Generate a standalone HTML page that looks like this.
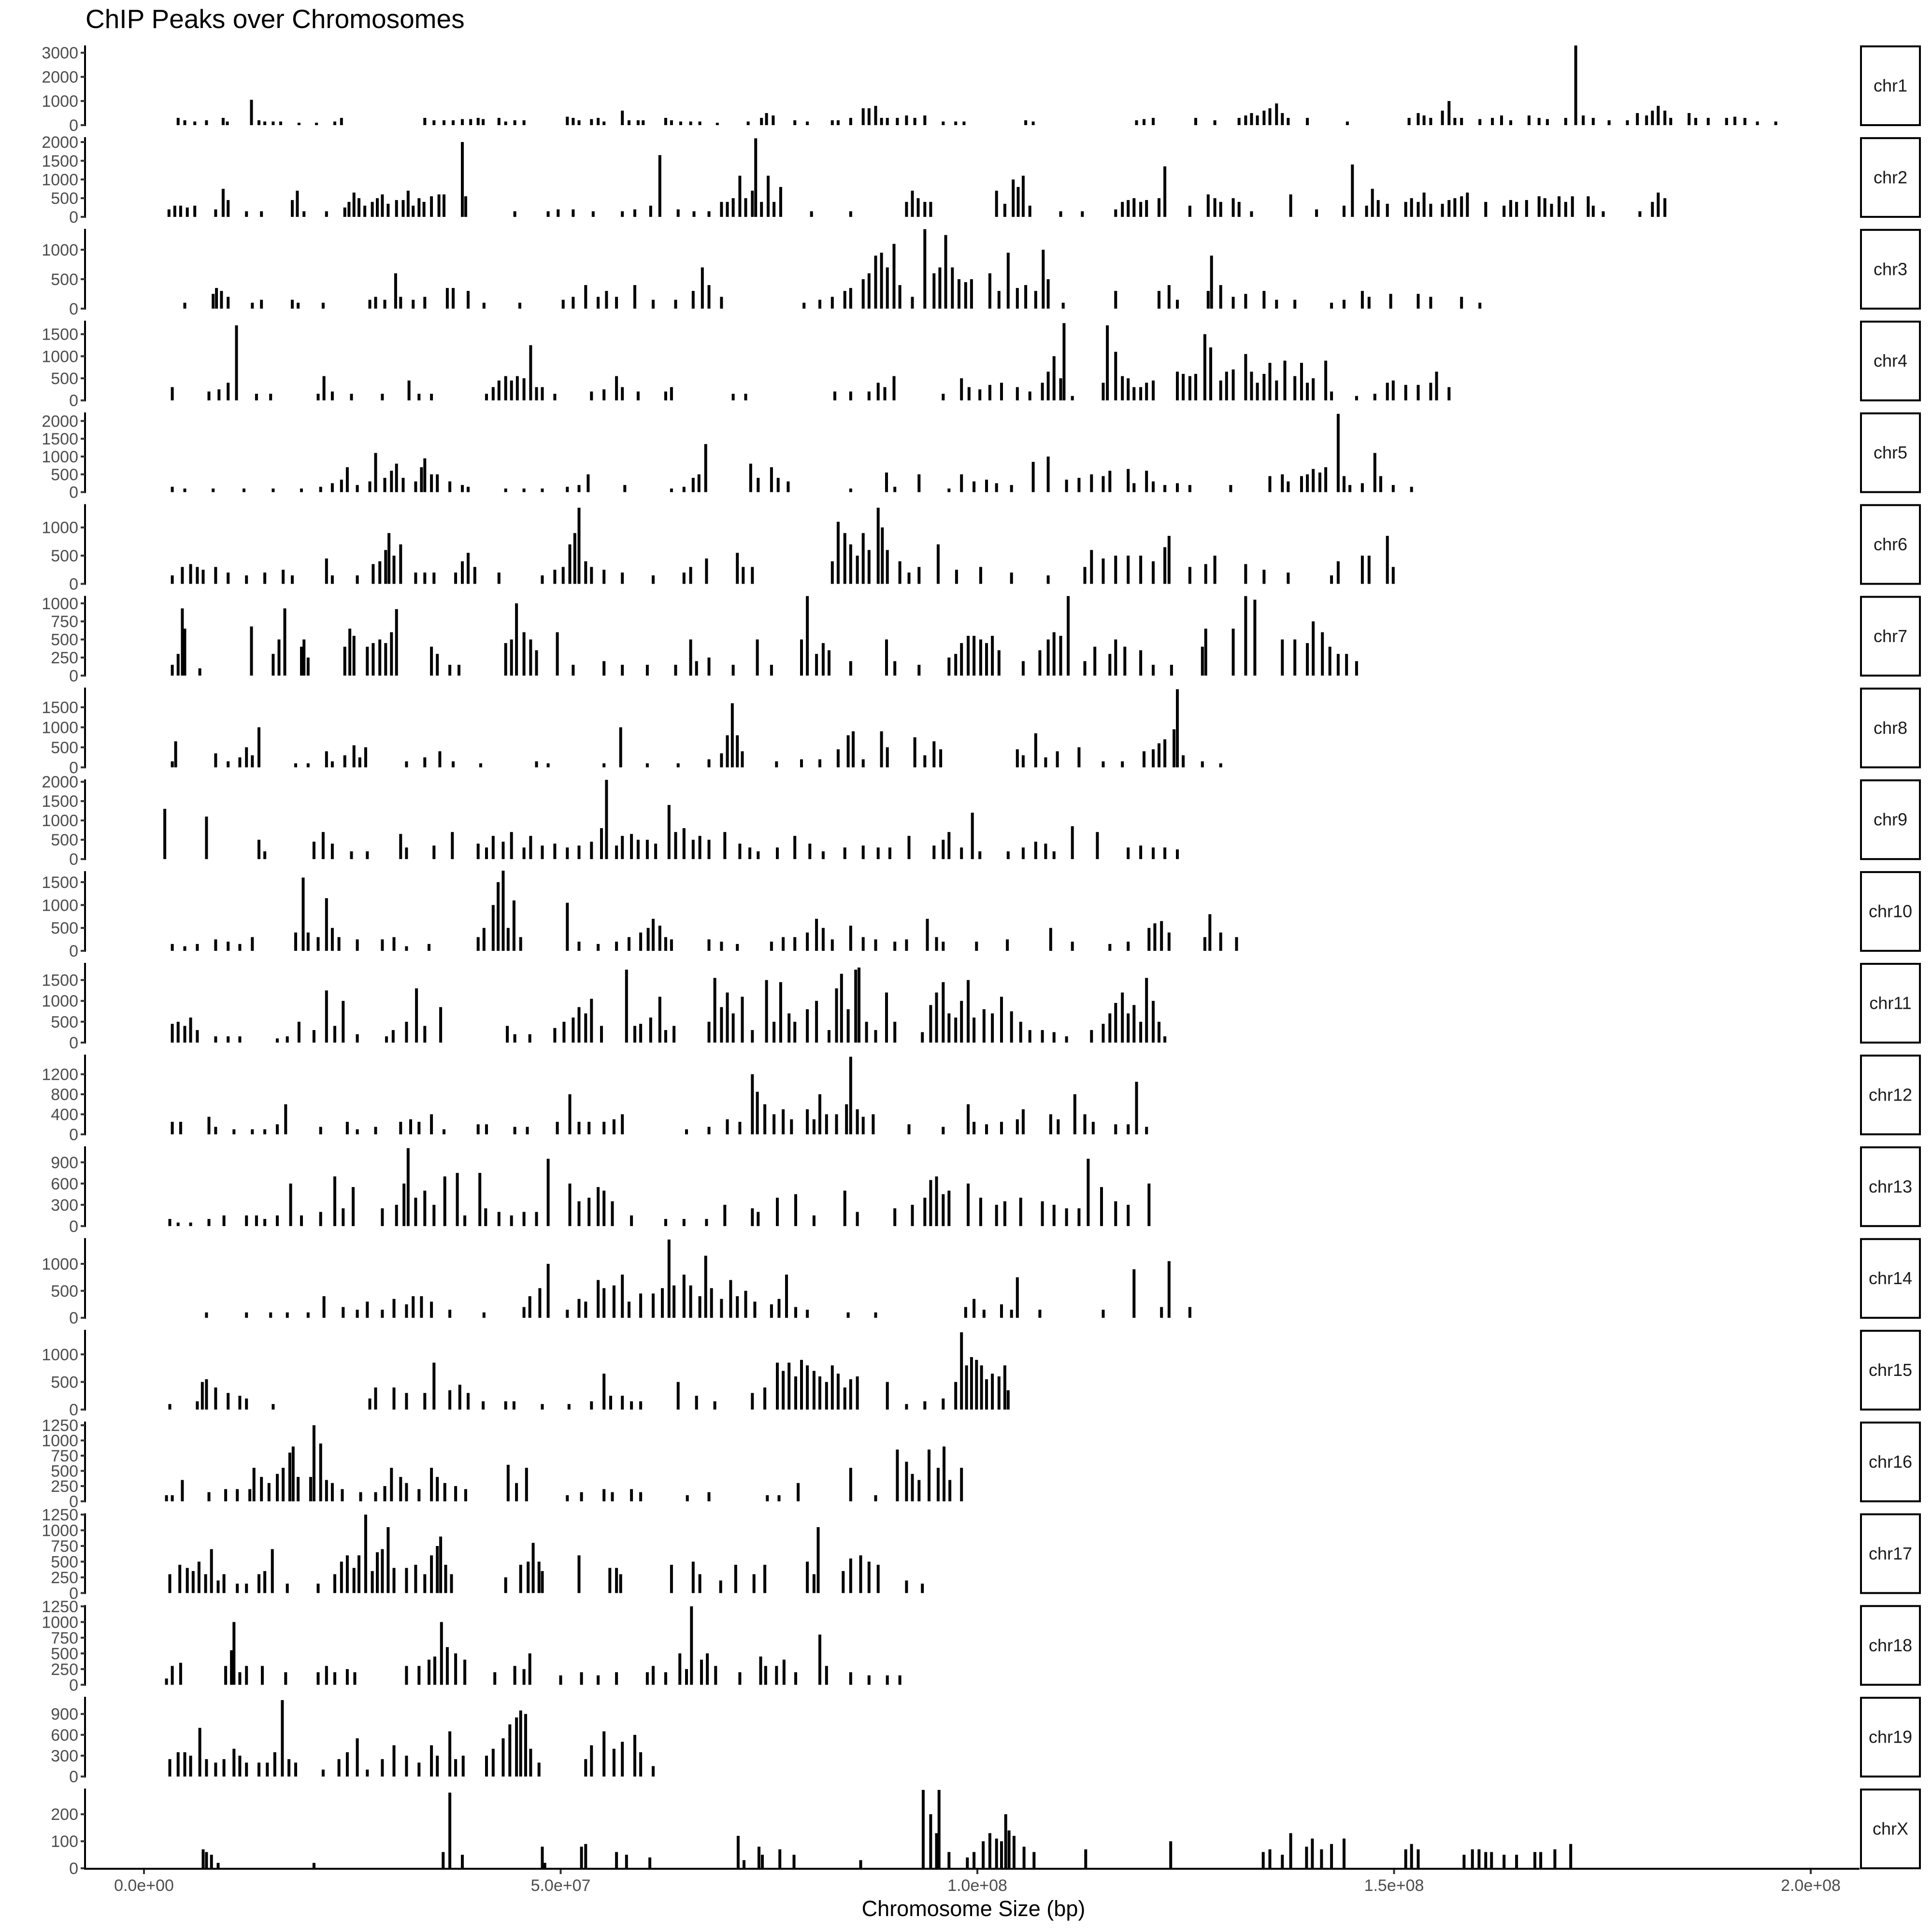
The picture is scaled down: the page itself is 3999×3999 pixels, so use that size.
<!DOCTYPE html>
<html><head><meta charset="utf-8"><style>
html,body{margin:0;padding:0;background:#fff;}
svg{display:block;font-family:"Liberation Sans",sans-serif;}
</style></head><body>
<svg id="chart" width="3999" height="3999" viewBox="0 0 3999 3999" xmlns="http://www.w3.org/2000/svg">
<rect width="3999" height="3999" fill="#fff"/>
<text x="177" y="58" font-size="55" fill="#000">ChIP Peaks over Chromosomes</text>
<g id="panels"></g>
<g id="xaxis"></g>
<text x="2015" y="3966" font-size="45" text-anchor="middle" fill="#000">Chromosome Size (bp)</text>
</svg>
<script>
const chromNames = ["chr1","chr2","chr3","chr4","chr5","chr6","chr7","chr8","chr9","chr10","chr11","chr12","chr13","chr14","chr15","chr16","chr17","chr18","chr19","chrX"];
const yMaxes = [3305,2131,1354,1806,2241,1413,1103,1990,2063,1741,1912,1592,1125,1477,1444,1310,1270,1270,1147,295];
const yTicks = [[0,1000,2000,3000],[0,500,1000,1500,2000],[0,500,1000],[0,500,1000,1500],[0,500,1000,1500,2000],[0,500,1000],[0,250,500,750,1000],[0,500,1000,1500],[0,500,1000,1500,2000],[0,500,1000,1500],[0,500,1000,1500],[0,400,800,1200],[0,300,600,900],[0,500,1000],[0,500,1000],[0,250,500,750,1000,1250],[0,250,500,750,1000,1250],[0,250,500,750,1000,1250],[0,300,600,900],[0,100,200]];
const xTicksMb = [0,50,100,150,200];
const xTickLabels = ["0.0e+00","5.0e+07","1.0e+08","1.5e+08","2.0e+08"];
// peaks: [position in Mb, signal]
const chr1 = [[4.1,300],[4.9,200],[6.1,150],[7.5,200],[9.5,300],[10,150],[12.9,1050],[13.8,200],[14.5,150],[15.5,150],[16.4,150],[18.6,100],[20.7,100],[22.9,150],[23.7,300],[33.7,300],[34.8,200],[36,200],[37.1,200],[38.2,250],[39.2,250],[40.1,300],[40.7,250],[42.6,300],[43.4,150],[44.5,200],[45.6,200],[50.8,350],[51.5,300],[52.2,200],[53.7,250],[54.5,300],[55.2,150],[57.4,600],[58.2,200],[59.3,200],[59.9,200],[62.6,300],[63.3,200],[64.4,150],[65.6,150],[66.7,150],[68.8,100],[72.5,150],[74.1,300],[74.7,500],[75.5,400],[78.1,200],[79.6,150],[82.6,200],[83.3,200],[84.8,300],[86.3,700],[87,700],[87.8,800],[88.5,300],[89.2,300],[90.4,300],[91.5,400],[92.5,300],[93.7,400],[95.9,150],[97.4,150],[98.4,150],[105.8,200],[106.7,150],[119.1,200],[120,250],[121.1,300],[126.2,300],[128.5,200],[131.4,300],[132.2,400],[132.9,500],[133.6,400],[134.4,600],[135.1,700],[135.9,900],[136.6,500],[137.3,300],[139.6,300],[144.4,150],[151.8,300],[152.9,500],[153.6,400],[154.4,300],[155.8,600],[156.6,1000],[157.3,300],[158.1,300],[160.3,250],[161.8,300],[162.9,400],[164,200],[166.2,400],[167.4,300],[168.4,250],[170.6,300],[171.8,3300],[172.7,400],[173.9,300],[175.8,200],[178,200],[179.2,500],[180.3,400],[181,600],[181.7,800],[182.5,600],[183.2,300],[185.4,500],[186.2,300],[187.7,300],[189.9,300],[190.9,350],[192.1,300],[193.6,150],[195.8,150]];
const chr2 = [[3,200],[3.7,300],[4.4,300],[5.2,250],[6.1,300],[8.6,200],[9.5,750],[10.1,450],[12.3,150],[14.1,150],[17.8,450],[18.4,700],[19.2,150],[21.9,150],[24.1,250],[24.6,400],[25.2,650],[25.8,500],[26.5,300],[27.4,400],[28,500],[28.6,600],[29.3,350],[30.3,450],[31.1,450],[31.7,700],[32.3,300],[33,500],[33.6,400],[34.5,550],[35.4,600],[36,600],[38.2,2000],[38.6,550],[44.5,150],[48.5,150],[49.7,200],[51.5,200],[53.9,150],[57.4,150],[58.9,200],[60.8,300],[61.9,1650],[64.1,200],[66,150],[67.8,150],[69.3,400],[70,400],[70.7,500],[71.5,1100],[72.2,500],[73,700],[73.4,2100],[74.1,400],[74.9,1100],[75.6,400],[76.4,800],[80.1,150],[84.8,150],[91.5,400],[92.2,700],[92.9,500],[93.7,400],[94.4,400],[102.3,700],[103.3,350],[104.3,1000],[104.9,800],[105.5,1100],[106.3,300],[110,150],[112.6,150],[116.6,200],[117.4,400],[118.1,450],[118.8,500],[119.6,400],[120.3,450],[121.8,500],[122.5,1350],[125.5,300],[127.7,600],[128.5,500],[129.2,400],[130.7,500],[131.4,400],[132.9,150],[137.6,600],[140.7,200],[144,300],[145,1400],[146.7,300],[147.4,750],[148.1,450],[149.2,350],[151.4,400],[152.1,500],[152.9,400],[153.6,650],[154.4,350],[155.8,350],[156.6,450],[157.3,500],[158.1,550],[158.8,650],[161,400],[163.2,300],[164,450],[164.7,400],[165.9,450],[167.4,550],[168.1,500],[168.9,350],[169.8,550],[170.6,400],[171.4,550],[173.3,550],[173.9,300],[175.1,150],[179.5,150],[181,400],[181.7,650],[182.5,500]];
const chr3 = [[4.9,100],[8.3,250],[8.7,350],[9.3,300],[10.1,200],[13,100],[14.1,150],[17.8,150],[18.5,100],[21.5,100],[27.1,150],[27.8,200],[28.9,150],[30.2,600],[30.8,200],[32.3,150],[33.7,200],[36.4,350],[37.1,350],[38.9,300],[40.8,100],[45.1,100],[50.3,150],[51.5,200],[53,400],[54.5,200],[55.5,300],[56.7,200],[58.9,400],[61.1,150],[63.8,150],[65.9,300],[67,700],[67.8,400],[69.3,200],[79.2,100],[81.1,150],[82.6,200],[84.1,300],[84.8,350],[86.3,500],[87,600],[87.8,900],[88.5,950],[89.2,700],[90,1100],[90.7,400],[92.2,200],[93.7,1350],[94.8,600],[95.5,700],[96.2,1250],[97,700],[97.8,500],[98.6,450],[99.3,500],[101.5,600],[102.6,300],[103.7,950],[104.8,350],[105.8,400],[107,300],[107.9,1000],[108.5,500],[110.3,100],[116.6,300],[121.8,300],[123,400],[124,150],[127.7,300],[128.1,900],[129.2,400],[130.7,200],[132.2,250],[134.4,300],[135.9,150],[138.1,150],[142.5,100],[144,150],[146.2,300],[147,200],[149.6,250],[152.9,250],[154.4,200],[158.1,200],[160.3,100]];
const chr4 = [[3.4,300],[7.8,200],[9,250],[10.1,400],[11.1,1700],[13.5,150],[15.2,150],[20.9,150],[21.6,550],[22.6,200],[24.9,150],[28.6,150],[31.8,450],[33,150],[34.5,150],[41.1,150],[41.9,300],[42.6,450],[43.4,550],[44.1,450],[44.8,550],[45.6,500],[46.4,1250],[47.1,300],[47.8,300],[49.3,150],[53.7,200],[55.2,250],[56.7,550],[57.4,300],[59.3,200],[62.6,200],[63.3,300],[70.7,150],[72.2,150],[82.9,200],[84.8,200],[87,200],[88.1,400],[88.9,300],[90,550],[95.9,150],[98.1,500],[99,300],[100.3,250],[101.5,350],[102.9,400],[104.8,300],[106.3,200],[107.8,400],[108.5,650],[109.2,1000],[110,500],[110.4,1750],[111.4,100],[115.1,400],[115.6,1700],[116.6,1100],[117.4,550],[118.1,500],[118.8,300],[119.6,300],[120.3,400],[121.1,450],[124,650],[124.7,600],[125.5,550],[126.2,600],[127.3,1500],[128,1200],[129.2,450],[129.9,650],[130.7,700],[132.2,1050],[132.9,650],[133.6,400],[134.4,600],[135.1,850],[135.9,450],[136.9,900],[138.1,550],[138.9,850],[139.6,400],[140.3,500],[141.8,900],[142.5,200],[145.5,100],[147.7,150],[149.2,400],[149.9,450],[151.4,350],[152.9,350],[154.4,400],[155.1,650],[156.6,300]];
const chr5 = [[3.4,150],[4.9,100],[8.3,100],[12,100],[15.5,100],[18.9,100],[21.2,150],[22.6,250],[23.7,350],[24.4,700],[25.6,200],[27.1,300],[27.8,1100],[28.9,400],[29.7,600],[30.3,800],[31.1,400],[32.6,300],[33.3,700],[33.7,950],[34.5,500],[35.2,500],[36.7,300],[38.2,200],[38.9,150],[43.4,100],[45.6,100],[47.8,100],[50.8,150],[52.2,200],[53.3,500],[57.7,200],[63.3,100],[64.8,150],[65.9,400],[66.6,500],[67.4,1350],[72.8,800],[73.7,400],[75.3,700],[76.1,400],[77.3,300],[84.8,100],[89.1,550],[90.1,150],[93,500],[96.6,100],[98.1,500],[99.6,300],[101.1,350],[102.3,250],[104.1,200],[106.7,850],[108.5,1000],[110.7,350],[112.2,400],[113.7,500],[115.1,450],[115.9,600],[118.1,650],[118.8,250],[120.3,600],[121.1,300],[122.5,200],[124,250],[125.5,200],[130.4,200],[135.1,450],[136.6,500],[137.3,300],[138.9,450],[139.6,500],[140.3,650],[141.1,550],[141.8,700],[143.3,2200],[144,450],[144.7,200],[146.2,250],[147.7,1100],[148.4,450],[149.9,200],[152.1,150]];
const chr6 = [[3.4,150],[4.6,300],[5.6,350],[6.4,300],[7.1,250],[8.6,300],[10.1,200],[12.3,150],[14.5,200],[16.7,250],[17.8,150],[21.9,450],[22.6,150],[25.6,150],[27.5,350],[28.3,400],[29,600],[29.4,900],[30,500],[30.8,700],[32.6,200],[33.7,200],[34.8,200],[37.4,200],[38.2,400],[38.9,550],[39.7,300],[42.6,200],[47.8,150],[49.3,250],[50.3,300],[51.1,700],[51.7,900],[52.2,1350],[53,400],[53.7,300],[55.2,250],[57.4,200],[61.1,150],[64.8,200],[65.6,300],[67.5,450],[71.2,550],[71.9,300],[73,300],[82.6,400],[83.3,1100],[84.1,900],[84.8,700],[85.6,500],[86.3,900],[87,600],[88.1,1350],[88.6,1000],[89.2,600],[90.7,400],[91.8,200],[93,300],[95.3,700],[97.5,250],[100.4,300],[104.1,200],[108.5,150],[112.9,300],[113.7,600],[115.1,450],[116.6,500],[118.1,500],[119.6,500],[121.1,400],[122.5,650],[123,850],[125.5,300],[127.4,350],[128.5,500],[132.2,350],[134.4,250],[137.3,200],[142.5,150],[143.3,400],[146.2,500],[147,500],[149.2,850],[149.9,300]];
const chr7 = [[3.4,150],[4.1,300],[4.6,930],[4.9,650],[6.7,100],[12.9,680],[15.5,300],[16.2,500],[16.9,930],[18.9,400],[19.2,500],[19.7,250],[24.1,400],[24.7,650],[25.2,550],[26.8,400],[27.5,450],[28.3,500],[29,450],[29.7,600],[30.3,920],[34.5,400],[35.2,300],[36.7,150],[37.8,150],[43.4,450],[44.1,500],[44.7,1000],[45.6,600],[46.4,500],[47.1,350],[49.6,600],[51.5,150],[55.2,200],[57.4,150],[60.4,150],[63.8,150],[65.6,500],[66.3,200],[67.8,250],[70.7,150],[73.6,500],[75.3,150],[78.9,500],[79.6,1100],[80.7,300],[81.5,450],[82.2,350],[84.8,200],[89.1,500],[90.1,200],[93,150],[96.6,250],[97.4,300],[98.1,450],[98.9,550],[99.6,550],[100.4,500],[101.1,450],[101.8,550],[102.6,350],[105.5,200],[107.5,350],[108.5,500],[109.2,600],[110,550],[110.9,1100],[112.9,200],[114.1,400],[115.9,300],[116.6,500],[117.7,400],[119.6,350],[121.1,150],[123.3,150],[127,400],[127.4,650],[130.7,650],[132.2,1100],[133.3,1050],[136.6,500],[138.1,500],[139.6,450],[140.3,750],[141.4,600],[142.3,400],[143.3,300],[144.3,300],[145.5,200]];
const chr8 = [[3.4,150],[3.8,650],[8.6,350],[10.1,150],[11.5,250],[12.3,500],[13,300],[13.8,1000],[18.2,100],[19.7,100],[21.9,400],[22.6,150],[24.1,300],[25.2,550],[25.9,250],[26.6,500],[31.5,150],[33.7,250],[35.5,400],[37.1,150],[40.4,100],[47.1,150],[48.5,100],[55.2,100],[57.2,1000],[60.4,100],[64.1,100],[67.8,200],[69.3,350],[70,800],[70.6,1600],[71.2,800],[71.8,400],[75.9,150],[78.9,200],[81.1,200],[83.3,450],[84.5,800],[85.1,900],[86.3,200],[88.5,900],[89.2,500],[92.5,750],[93.7,300],[94.8,650],[95.6,450],[104.8,450],[105.5,300],[107,850],[108.2,250],[109.6,400],[112.2,500],[115.1,150],[117.4,150],[120,400],[121.1,450],[121.8,600],[122.5,700],[123.6,950],[124,1950],[124.7,300],[127,150],[129.2,100]];
const chr9 = [[2.5,1300],[7.5,1100],[13.8,500],[14.5,200],[20.4,450],[21.5,700],[22.6,400],[24.9,200],[26.8,200],[30.8,650],[31.5,300],[34.8,350],[37,700],[40.1,400],[41.1,300],[41.9,600],[43.1,450],[44.1,700],[45.6,300],[46.4,600],[47.8,350],[49.3,400],[50.8,300],[52.2,350],[53.7,450],[54.9,800],[55.5,2050],[56.7,350],[57.4,600],[58.5,650],[59.3,500],[60.4,500],[61.4,400],[63,1400],[63.8,700],[64.8,800],[65.9,500],[66.7,600],[67.8,500],[69.7,700],[71.5,400],[72.7,300],[73.7,200],[76,300],[78.1,600],[79.9,400],[81.5,200],[84.1,300],[86.3,350],[88.1,300],[89.5,300],[91.8,600],[94.8,350],[95.9,500],[96.6,700],[98.1,300],[99.4,1200],[100.3,200],[103.7,200],[105.5,300],[107,450],[108.2,400],[109.2,200],[111.4,850],[114.4,700],[118.1,300],[119.6,350],[121.1,300],[122.5,300],[124,250]];
const chr10 = [[3.4,150],[4.9,100],[6.4,150],[8.6,250],[10.1,200],[11.5,150],[13,300],[18.2,400],[19.1,1600],[19.7,400],[20.9,300],[21.9,1150],[22.6,500],[23.4,300],[25.6,250],[28.6,250],[30,300],[31.5,100],[34.2,150],[40.1,300],[40.8,500],[41.9,1000],[42.5,1500],[43.1,1750],[43.7,500],[44.4,1100],[45.2,300],[50.8,1050],[52.2,200],[54.5,150],[56.7,200],[58.2,300],[59.6,400],[60.5,500],[61.1,700],[61.9,550],[62.6,300],[63.3,250],[67.8,250],[69.3,200],[71.2,150],[75.3,200],[76.7,300],[78.1,300],[79.6,400],[80.7,700],[81.5,500],[82.6,250],[84.8,550],[86.3,300],[87.8,250],[90.1,200],[91.5,250],[94,700],[95.1,300],[95.9,200],[99.9,200],[103.6,250],[108.8,500],[111.4,200],[115.9,150],[118.1,200],[120.6,500],[121.3,600],[122.1,650],[123,400],[127.3,300],[127.9,800],[129.2,400],[131.1,300]];
const chr11 = [[3.4,450],[4.1,500],[4.9,400],[5.6,600],[6.4,300],[8.6,150],[10.1,150],[11.5,150],[16,100],[17.2,150],[18.6,500],[20.4,300],[21.9,1250],[22.9,400],[23.9,1000],[25.6,200],[29.1,150],[29.9,300],[31.5,500],[32.7,1300],[33.7,400],[35.6,850],[43.6,400],[44.5,200],[46.3,200],[49.3,350],[50.4,500],[51.5,600],[52.2,850],[53,700],[53.7,1050],[54.9,400],[57.9,1750],[58.9,400],[59.6,450],[60.8,600],[61.9,1100],[62.6,300],[63.6,400],[67.8,500],[68.5,1550],[69.3,850],[70,1200],[70.7,700],[71.8,1100],[73,300],[74.7,1500],[75.6,500],[76.4,1450],[77.4,700],[78.1,500],[79.6,800],[80.7,1000],[82.2,300],[83.1,1300],[83.7,1650],[84.5,800],[85.4,1750],[85.8,1800],[86.7,500],[87.8,300],[89.1,1200],[90.1,500],[93.4,250],[94.4,900],[95.1,1200],[95.9,1450],[96.6,700],[97.4,600],[98.1,1000],[98.9,1500],[99.6,600],[100.8,800],[101.8,700],[102.9,1100],[104.1,750],[105.2,500],[106.3,300],[107.8,300],[109.2,250],[110.7,150],[113.7,300],[115.1,450],[115.9,700],[116.6,950],[117.4,1200],[118.1,700],[118.8,900],[119.6,500],[120.3,1550],[121.1,1000],[121.8,500],[122.5,150]];
const chr12 = [[3.4,250],[4.4,250],[7.8,350],[8.6,150],[10.8,100],[13,100],[14.5,100],[16,200],[17,600],[21.2,150],[24.4,250],[25.6,100],[27.8,150],[30.8,250],[32,300],[33,250],[34.5,400],[36,100],[40.1,200],[41.1,200],[44.5,150],[46,150],[49.6,250],[51.1,800],[52.2,250],[53.4,250],[55.2,250],[56.4,300],[57.4,400],[65.1,100],[67.8,150],[70,300],[71.5,250],[73,1200],[73.6,850],[74.5,600],[75.6,400],[76.7,500],[77.7,300],[79.6,500],[80.4,300],[81.1,800],[81.9,400],[83.1,400],[84.3,600],[84.8,1550],[85.6,500],[86.3,350],[87.5,400],[91.8,200],[95.9,150],[98.9,600],[99.6,250],[101.1,200],[102.9,250],[104.8,300],[105.5,500],[108.8,400],[109.7,300],[111.7,800],[112.9,400],[113.9,250],[116.6,200],[118.1,200],[119.1,1050],[120.3,150]];
const chr13 = [[3.1,100],[4.1,50],[5.6,50],[7.8,100],[9.6,150],[12.3,150],[13.5,150],[14.5,100],[16,150],[17.6,600],[18.9,150],[21.2,200],[22.9,700],[23.9,250],[25.1,550],[28.6,250],[30.3,300],[31.2,600],[31.7,1100],[32.6,400],[33.7,500],[34.8,300],[36.1,700],[37.6,750],[38.5,150],[40.3,750],[41,250],[42.6,200],[44.1,150],[45.6,200],[47.1,200],[48.5,950],[51.1,600],[52.2,350],[53.4,400],[54.5,550],[55.2,500],[56.2,350],[58.5,150],[62.6,100],[64.8,100],[67.5,100],[69.7,300],[73,250],[73.7,200],[76,400],[78.2,450],[80.4,150],[84.1,500],[85.6,200],[90.1,250],[92.2,300],[93.7,400],[94.4,650],[95.1,700],[95.9,450],[96.6,500],[98.9,600],[100.4,400],[102.3,300],[103.3,350],[105.2,400],[107.8,350],[109.2,300],[110.7,250],[112.2,250],[113.3,950],[114.9,550],[116.6,350],[118.1,300],[120.6,600]];
const chr14 = [[7.5,100],[12.3,100],[15.2,100],[17.2,100],[19.7,100],[21.6,400],[23.9,200],[25.6,150],[26.8,300],[28.6,150],[30,350],[31.5,250],[32.3,400],[33.3,400],[34.5,300],[36.7,150],[40.8,100],[45.6,200],[46.3,400],[47.5,550],[48.5,1000],[50.8,150],[52.2,350],[53,300],[54.5,700],[55.2,550],[56.4,600],[57.4,800],[58.2,300],[59.6,450],[61.1,450],[62.2,550],[63,1450],[63.6,600],[64.8,800],[65.6,600],[66.7,400],[67.4,1150],[68.1,550],[69.3,350],[70.4,700],[71.2,400],[72.2,500],[73.3,300],[75.3,250],[76.2,350],[77.1,800],[78.2,200],[79.6,150],[84.5,100],[87.8,100],[98.6,200],[99.6,350],[100.8,150],[102.9,250],[104.1,150],[104.8,750],[107.5,150],[115.1,150],[118.8,900],[122.1,200],[123,1050],[125.5,200]];
const chr15 = [[3.1,100],[6.4,150],[7,500],[7.5,550],[8.6,400],[10.1,300],[11.5,250],[12.3,200],[15.5,100],[27.1,200],[27.8,400],[30,400],[31.5,300],[33.7,300],[34.8,850],[36.7,350],[37.9,450],[38.9,300],[40.7,150],[43.4,150],[44.4,150],[47.8,100],[51,100],[53.7,150],[55.2,650],[56,250],[57.4,250],[58.5,150],[59.6,150],[64.1,500],[66.3,250],[68.5,150],[73,300],[74.5,400],[76,850],[76.7,700],[77.4,850],[78.2,600],[78.9,900],[79.6,800],[80.4,700],[81.1,600],[81.9,500],[82.6,800],[83.3,650],[84.1,400],[84.8,550],[85.6,600],[89.2,500],[91.5,100],[93.7,150],[95.9,200],[97.4,500],[98.1,1400],[98.7,800],[99.3,950],[99.9,900],[100.5,800],[101.1,550],[101.8,650],[102.6,600],[103.3,800],[103.7,350]];
const chr16 = [[2.7,100],[3.4,100],[4.6,350],[7.8,150],[9.8,200],[11.2,200],[12.7,200],[13.2,550],[14.1,400],[15,300],[16,450],[16.7,550],[17.5,800],[17.9,900],[18.5,400],[20,400],[20.4,1250],[21.2,950],[21.9,350],[22.6,300],[23.8,200],[26,150],[27.8,150],[28.9,250],[29.7,550],[30.8,400],[31.5,300],[33,200],[34.5,550],[35.2,400],[36.1,300],[37.4,250],[38.6,200],[43.7,600],[44.7,300],[45.9,550],[50.8,100],[52.5,150],[55.2,200],[56.2,150],[58.5,200],[59.6,150],[65.2,100],[67.8,150],[74.8,100],[76.2,100],[78.5,300],[84.8,550],[87.8,100],[90.4,850],[91.5,650],[92.2,450],[93,350],[94.2,850],[95.3,550],[96,900],[96.7,350],[98.1,550]];
const chr17 = [[3.1,300],[4.3,450],[5.2,400],[5.9,350],[6.6,500],[7.4,300],[8.1,700],[8.9,200],[9.6,300],[11.2,150],[12.3,150],[13.8,300],[14.5,350],[15.4,700],[17.2,150],[20.9,150],[22.9,300],[23.7,500],[24.4,600],[25.2,400],[25.8,600],[26.6,1250],[27.4,350],[28,650],[28.6,700],[29.3,1050],[30,400],[31.5,400],[32.6,450],[33.7,300],[34.5,600],[35.2,750],[35.6,900],[36.2,450],[36.9,300],[43.4,250],[45.2,450],[46.1,500],[46.7,800],[47.4,500],[47.8,350],[52.2,600],[55.9,400],[56.7,400],[57.2,300],[63.3,450],[65.9,500],[66.7,300],[69.2,200],[71,450],[73.2,300],[74.5,450],[79.6,500],[80.4,300],[80.9,1050],[83.9,350],[84.8,550],[86,600],[87,500],[88.1,450],[91.5,200],[93.4,150]];
const chr18 = [[2.7,100],[3.4,300],[4.4,350],[9.8,300],[10.5,550],[10.8,1000],[11.5,200],[12.3,300],[14.2,300],[17,200],[20.9,200],[21.9,300],[22.9,200],[24.4,250],[25.3,200],[31.5,300],[33,300],[34.2,400],[34.9,450],[35.7,1000],[36.4,600],[37.4,500],[38.5,400],[42.1,200],[44.5,300],[45.6,250],[46.3,500],[50,150],[52.5,200],[54.5,150],[56.7,200],[60.4,200],[61.1,300],[62.6,200],[64.3,500],[65.1,250],[65.7,1250],[66.9,400],[67.6,500],[68.6,300],[71.5,200],[74,450],[74.6,300],[75.9,300],[76.8,400],[78.2,200],[81.1,800],[81.9,300],[84.8,200],[87,150],[89.2,150],[90.7,150]];
const chr19 = [[3.1,250],[4.1,350],[4.9,350],[5.6,300],[6.7,700],[7.5,250],[8.6,200],[9.6,250],[10.8,400],[11.5,300],[12.3,200],[13.8,200],[14.8,200],[15.7,350],[16.6,1100],[17.4,250],[18.2,200],[21.5,100],[23.4,250],[24.4,350],[25.6,550],[26.8,100],[28.6,250],[30,450],[31.5,300],[33,200],[34.5,450],[35.2,300],[36.7,650],[37.4,250],[38.3,300],[41.1,300],[41.9,400],[43.1,550],[43.9,750],[44.7,850],[45.2,950],[45.8,900],[46.4,400],[47.4,200],[53,250],[53.7,450],[55.2,650],[56.4,400],[57.4,500],[58.9,600],[59.6,350],[61.1,150]];
const chrX = [[7.1,70],[7.5,60],[8.1,50],[8.9,20],[20.4,20],[35.9,60],[36.7,280],[38.2,50],[47.8,80],[48.1,20],[52.5,80],[53,90],[56.7,60],[57.9,50],[60.7,40],[71.3,120],[72,30],[73.8,80],[74.2,50],[76.3,70],[78,50],[86,30],[93.5,290],[94.4,200],[95.1,130],[95.4,290],[96.6,60],[98.8,40],[99.6,60],[100.7,100],[101.5,130],[102.3,110],[102.9,100],[103.4,200],[103.8,140],[104.4,120],[105.6,80],[106.8,60],[113,70],[123.2,100],[134.3,60],[135.1,70],[136.6,50],[137.6,130],[139.5,80],[140.2,110],[141.3,70],[142.5,90],[144,110],[151.4,70],[152.1,90],[152.9,70],[158.4,50],[159.4,70],[160.2,70],[161,60],[161.7,60],[163.2,50],[164.7,50],[166.9,60],[167.6,60],[169.3,70],[171.2,90]];
const peakSets = [chr1,chr2,chr3,chr4,chr5,chr6,chr7,chr8,chr9,chr10,chr11,chr12,chr13,chr14,chr15,chr16,chr17,chr18,chr19,chrX];

const NS = "http://www.w3.org/2000/svg";
const AX_LEFT = 176, AX_RIGHT = 3849, X0 = 298, PX_PER_MB = 17.25;
const FIRST_ZERO = 259, PITCH = 189.9, PANEL_H = 165;
function xScale(mb){ return X0 + mb*PX_PER_MB; }
function yScale(v, zero, ymax){ return zero - v/ymax*PANEL_H; }
function mk(tag, attrs){ const e=document.createElementNS(NS,tag); for(const k in attrs) e.setAttribute(k,attrs[k]); return e; }

const panels = document.getElementById('panels');
chromNames.forEach((name, i) => {
  const zero = FIRST_ZERO + i*PITCH;
  const top = zero - PANEL_H;
  const ymax = yMaxes[i];
  const g = mk('g', {});
  
  
  panels.appendChild(g);
  const bars = mk('g', {fill:'#000'});
  
  
  g.appendChild(bars);
  peakSets[i].forEach(p => {
    const x = xScale(p[0]);
    const y = yScale(p[1], zero, ymax);
    const r = mk('rect', {x:(x-3).toFixed(1), y:y.toFixed(1), width:6, height:(zero-y).toFixed(1)});
    
    
    bars.appendChild(r);
  });
  const ax = mk('line', {x1:AX_LEFT, x2:AX_LEFT, y1:top, y2:zero+2, stroke:'#000', 'stroke-width':4});
  
  
  g.appendChild(ax);
  yTicks[i].forEach(t => {
    const y = yScale(t, zero, ymax);
    const tk = mk('line', {x1:AX_LEFT-9, x2:AX_LEFT, y1:y, y2:y, stroke:'#333', 'stroke-width':4});
    
    
    g.appendChild(tk);
    const tx = mk('text', {x:AX_LEFT-14, y:y+12, 'font-size':34, fill:'#4d4d4d', 'text-anchor':'end'});
    tx.textContent = t;
    
    
    g.appendChild(tx);
  });
  const sr = mk('rect', {x:3852, y:top+2, width:122, height:PANEL_H-2, fill:'#fff', stroke:'#000', 'stroke-width':4});
  
  
  g.appendChild(sr);
  const st = mk('text', {x:3913, y:(top+zero)/2+13, 'font-size':36, fill:'#1a1a1a', 'text-anchor':'middle'});
  st.textContent = name;
  
  
  g.appendChild(st);
});

const xg = document.getElementById('xaxis');
const lastZero = FIRST_ZERO + (chromNames.length-1)*PITCH;
const xl = mk('line', {x1:AX_LEFT-2, x2:AX_RIGHT, y1:lastZero+1, y2:lastZero+1, stroke:'#000', 'stroke-width':4});


xg.appendChild(xl);
xTicksMb.forEach((mb, j) => {
  const x = xScale(mb);
  const tk = mk('line', {x1:x, x2:x, y1:lastZero+3, y2:lastZero+12, stroke:'#333', 'stroke-width':4});
  
  
  xg.appendChild(tk);
  const tx = mk('text', {x:x, y:lastZero+47, 'font-size':34, fill:'#4d4d4d', 'text-anchor':'middle'});
  tx.textContent = xTickLabels[j];
  
  
  xg.appendChild(tx);
});
</script>
</body></html>
